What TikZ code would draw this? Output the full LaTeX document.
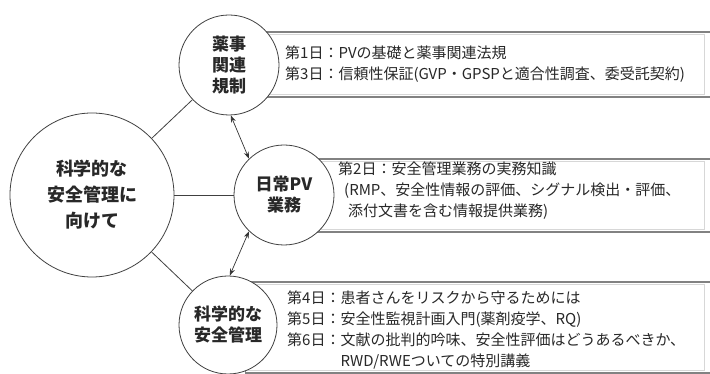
\documentclass[tikz,border=0pt]{standalone}
\usepackage{fontspec}
\setmainfont{Noto Sans CJK JP}
\usetikzlibrary{arrows.meta,positioning}
\definecolor{framecolor}{RGB}{130, 130, 130}
\definecolor{innercolor}{RGB}{215, 215, 215}
\definecolor{textcolor}{RGB}{40, 40, 40}

\begin{document}
\begin{tikzpicture}[
        x=1pt, y=1pt,
        topic/.style={circle, draw=black!75, line width=0.8pt, fill=white, align=center, inner sep=0pt, text=textcolor, font=\bfseries\fontsize{17}{21}\selectfont},
        daybox/.style={rectangle, draw=framecolor, line width=1.4pt, fill=white, anchor=west},
        daytext/.style={anchor=west, align=left, inner sep=0pt, text=textcolor, font=\fontsize{15}{21}\selectfont},
        link/.style={draw=black!75, line width=0.8pt},
        arrow/.style={{Stealth[length=7pt,width=5pt]}-{Stealth[length=7pt,width=5pt]}, line width=0.7pt, black!80}
    ]
        \clip (0,0) rectangle (710,374);

        % Day boxes
        \node[daybox, minimum width=454pt, minimum height=65pt] (regbox) at (258,309.5) {};
        \node[daybox, minimum width=402pt, minimum height=73pt] (pvbox) at (310,178.5) {};
        \node[daybox, minimum width=467pt, minimum height=91pt] (scibox) at (245,46.5) {};
        \foreach \b in {regbox,pvbox,scibox}
            \draw[innercolor, line width=0.6pt] ([xshift=3pt,yshift=-3pt]\b.north west) rectangle ([xshift=-9pt,yshift=3pt]\b.south east);

        % Topics
        \node[topic, minimum size=164pt, font=\bfseries\fontsize{18}{26}\selectfont] (safety) at (92,179) {科学的な\\安全管理に\\向けて};
        \node[topic, minimum size=100pt] (reg) at (229,309) {薬事\\関連\\規制};
        \node[topic, minimum size=100pt] (pv) at (284,179) {日常PV\\業務};
        \node[topic, minimum size=98pt] (sci) at (228,49) {科学的な\\安全管理};

        % Day texts
        \node[daytext] (regtext) at (285,310) {第1日：PVの基礎と薬事関連法規\\第3日：信頼性保証(GVP・GPSPと適合性調査、委受託契約)};
        \node[daytext] (pvtext) at (338,183) {第2日：安全管理業務の実務知識\\\hspace*{6pt}(RMP、安全性情報の評価、シグナル検出・評価、\\\hspace*{10pt}添付文書を含む情報提供業務)};
        \node[daytext] (scitext) at (287,44) {第4日：患者さんをリスクから守るためには\\第5日：安全性監視計画入門(薬剤疫学、RQ)\\第6日：文献の批判的吟味、安全性評価はどうあるべきか、\\\hphantom{第6日：}RWD/RWEついての特別講義};

        % Links
        \draw[link] (safety) -- (reg);
        \draw[link] (safety) -- (pv);
        \draw[link] (safety) -- (sci);
        \draw[arrow] (reg.-88) -- (pv.134);
        \draw[arrow] (pv.226) -- (sci.88);

    \end{tikzpicture}
\end{document}
